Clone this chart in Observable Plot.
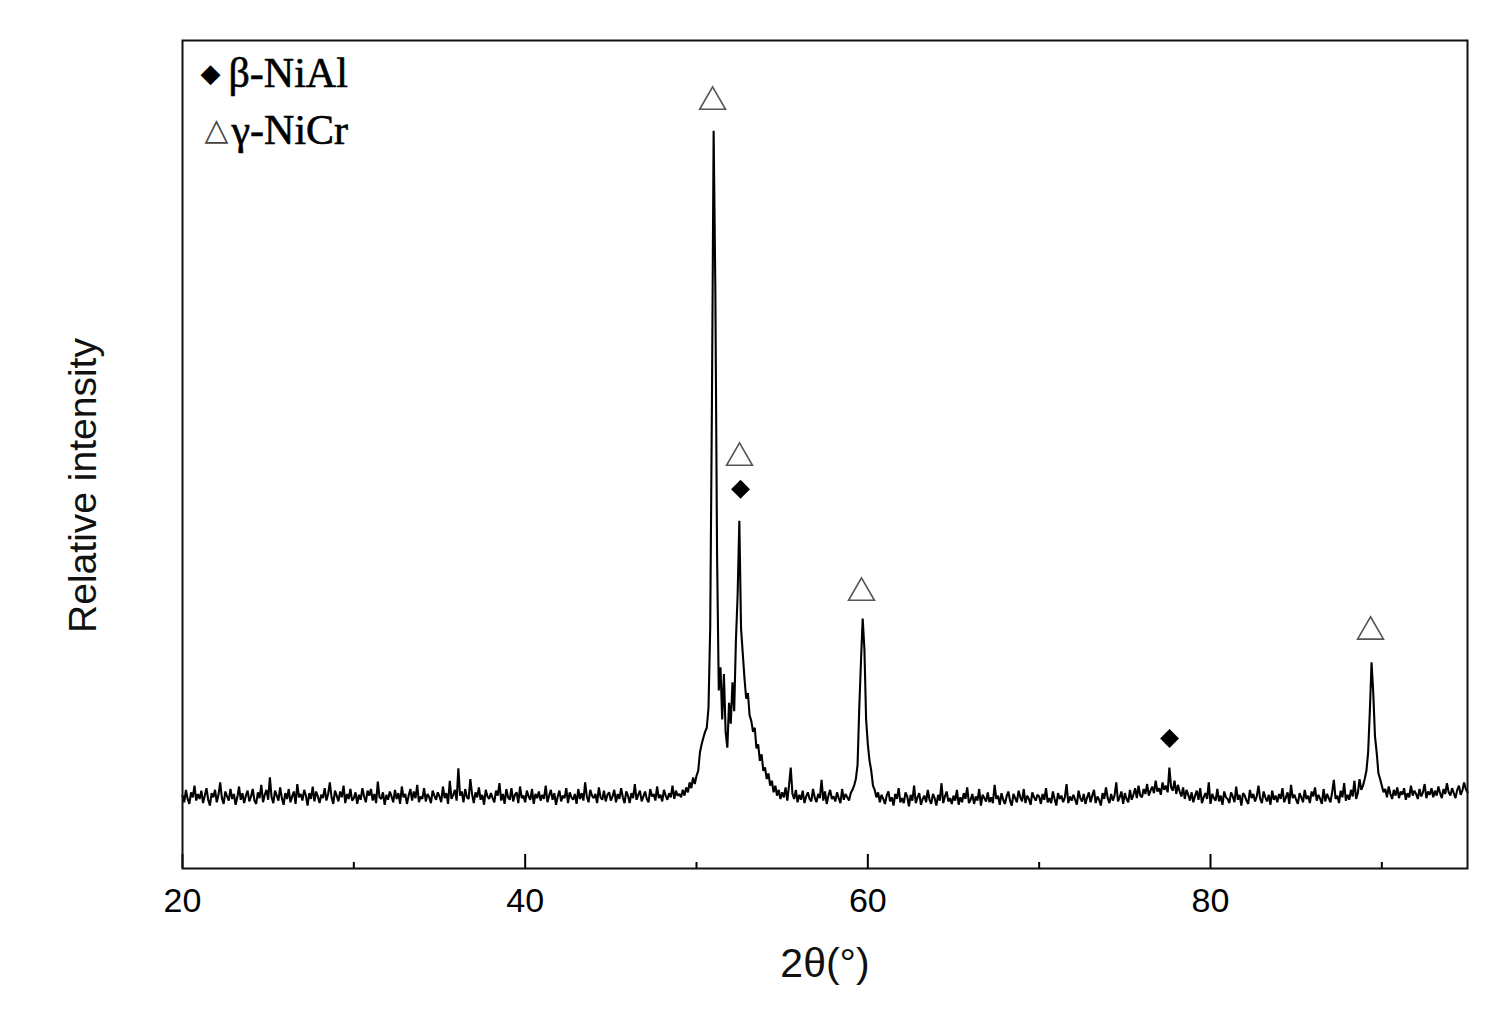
<!DOCTYPE html>
<html><head><meta charset="utf-8">
<script src="https://cdn.jsdelivr.net/npm/d3@7"></script>
<script src="https://cdn.jsdelivr.net/npm/@observablehq/plot@0.6"></script>
<style>body{margin:0;background:#fff}</style>
</head><body><div id="chart"></div>
<script>
// Sampling grid of the diffractogram (2θ, degrees)
const angleStart = 20;
const angleStep = 0.1;
// Relative intensity, one value every 0.1° from 20° to 95°
const intensity = [
 88,80,95,84,78,92,86,100,82,90,
 84,94,79,88,97,83,76,91,86,95,
 80,89,104,85,78,93,87,82,96,84,
 90,77,86,99,83,91,79,88,94,81,
 87,96,82,78,92,85,101,80,89,95,
 83,110,86,79,94,88,82,98,85,77,
 91,84,96,80,87,93,78,102,86,90,
 82,95,88,76,91,84,99,81,93,87,
 79,89,85,97,82,90,104,86,78,94,
 88,81,93,86,100,79,90,84,96,82,
 85,92,78,89,83,97,87,80,94,88,
 96,82,90,79,105,86,84,92,77,89,
 83,93,87,80,95,84,91,78,99,86,
 90,78,88,96,82,93,85,101,80,87,
 84,97,81,90,86,79,94,88,83,92,
 87,80,99,85,91,78,106,84,89,95,
 82,121,88,93,80,96,86,84,108,90,
 79,92,86,98,83,89,77,95,87,84,
 91,85,80,94,88,103,82,90,78,96,
 86,83,97,81,89,92,79,99,85,88,
 80,94,87,83,96,78,90,85,93,82,
 89,84,100,80,88,95,83,91,77,87,
 94,81,88,85,97,79,92,86,83,90,
 78,96,84,91,82,104,87,80,95,88,
 85,90,79,98,86,83,94,81,89,92,
 82,87,95,80,90,84,97,86,79,93,
 88,79,91,85,102,83,89,94,81,87,
 93,84,80,96,87,90,82,99,85,89,
 81,95,88,83,91,86,100,84,94,88,
 90,86,95,88,98,92,104,97,110,102,
 112,118,140,150,158,165,170,194,291,560,
 891,698,380,215,243,180,235,165,146,200,
 175,225,190,275,330,420,290,260,230,205,
 212,185,178,165,170,145,150,130,138,118,
 122,108,115,100,106,92,100,88,95,84,
 92,86,98,82,100,122,90,84,95,80,
 89,83,94,79,87,92,84,81,96,86,
 80,90,85,107,82,93,78,88,95,84,
 87,81,92,85,79,96,83,90,86,82,
 91,95,100,108,125,194,250,302,265,180,
 150,130,118,100,95,86,92,80,89,84,
 78,88,93,81,86,76,90,84,97,80,
 85,79,92,87,75,89,82,100,79,86,
 91,77,84,88,80,95,83,78,90,85,
 76,89,82,103,79,87,93,81,85,78,
 88,82,95,77,86,80,91,84,98,79,
 83,90,78,87,82,96,76,89,85,81,
 92,80,86,79,101,84,88,77,91,83,
 78,87,93,82,76,90,85,80,94,86,
 81,96,79,88,84,77,92,86,82,89,
 87,78,90,83,97,80,85,79,93,84,
 76,91,84,88,80,86,102,79,87,82,
 89,83,77,94,85,81,90,78,86,92,
 80,88,95,79,87,83,76,91,84,98,
 85,79,90,82,88,104,81,86,93,78,
 91,84,80,95,83,89,97,85,100,88,
 86,96,90,102,88,94,99,91,106,93,
 97,89,104,95,100,92,122,98,94,106,
 90,101,93,87,98,84,95,89,82,92,
 80,88,94,83,97,79,86,91,84,104,
 78,90,85,82,96,81,88,77,93,86,
 84,79,92,87,80,99,83,89,76,91,
 88,82,78,95,85,90,81,87,100,84,
 79,93,86,81,89,77,94,83,88,80,
 90,84,97,80,86,92,78,101,85,89,
 83,78,91,86,80,95,84,88,79,93,
 87,98,82,89,84,78,96,81,90,85,
 80,92,107,84,88,79,94,86,103,82,
 89,83,95,87,106,84,91,108,95,100,
 108,118,140,190,249,212,160,140,115,108,
 100,92,96,86,99,90,84,95,88,98,
 85,93,89,97,83,91,86,100,88,94,
 90,84,96,87,92,102,85,93,89,97,
 86,94,88,99,91,85,96,90,103,92,
 88,97,91,85,95,100,89,94,104,96,
 92
];
// Axis ticks
const xTicksMajor = [20, 40, 60, 80];
const xTicksMinor = [30, 50, 70, 90];
// Phase markers (γ-NiCr: open triangles, β-NiAl: filled diamonds)
const nicrAngles = [50.94, 52.51, 59.63, 89.34];
const nicrHeights = [926, 496, 333, 286];
const nialAngles = [52.57, 77.61];
const nialHeights = [458, 157];
// Texts
const legendSymbols = ["◆", "△"];
const legendLabels = ["β-NiAl", "γ-NiCr"];
const xLabel = "2θ(°)";
const yLabel = "Relative intensity";

const spectrum = intensity.map((v, i) => ({angle: angleStart + i * angleStep, intensity: v}));
const nicr = nicrAngles.map((a, i) => ({angle: a, h: nicrHeights[i]}));
const nial = nialAngles.map((a, i) => ({angle: a, h: nialHeights[i]}));

const innerH = 1014 - 40 - 146;
const serif = "'Liberation Serif', 'Times New Roman', serif";

const chart = Plot.plot({
  width: 1510,
  height: 1014,
  marginTop: 40,
  marginRight: 43,
  marginBottom: 146,
  marginLeft: 182,
  x: {domain: [20, 95]},
  y: {domain: [0, 1000], axis: null},
  style: {fontFamily: "'Liberation Sans', Arial, sans-serif", background: "#fff", color: "#000"},
  marks: [
    Plot.line(spectrum, {x: "angle", y: "intensity", stroke: "#000", strokeWidth: 2.1, strokeLinejoin: "miter"}),
    Plot.ruleX(xTicksMajor, {x: d => d, insetTop: innerH - 14, stroke: "#000", strokeWidth: 2}),
    Plot.ruleX(xTicksMinor, {x: d => d, insetTop: innerH - 6, stroke: "#000", strokeWidth: 2}),
    Plot.axisX({ticks: xTicksMajor, tickSize: 0, tickPadding: 19, fontSize: 34, label: null, tickFormat: d => String(d)}),
    Plot.frame({stroke: "#111", strokeWidth: 2}),
    Plot.dot(nicr, {x: "angle", y: "h", symbol: "triangle", r: 9.6, stroke: "#555", fill: "none", strokeWidth: 1.6}),
    Plot.dot(nial, {x: "angle", y: "h", symbol: "diamond2", r: 8.5, fill: "#000", stroke: "none"}),
    Plot.text([xLabel], {text: d => d, frameAnchor: "bottom", dy: 108, fontSize: 41, fill: "#111"}),
    Plot.text([yLabel], {text: d => d, frameAnchor: "left", textAnchor: "middle", rotate: -90, dx: -99, dy: 31, fontSize: 39, fill: "#111"}),
    Plot.text([legendSymbols[0]], {text: d => d, frameAnchor: "top-left", dx: 28, dy: 33, fontSize: 26, textAnchor: "middle", lineAnchor: "middle", fontFamily: "DejaVu Sans", fill: "#000"}),
    Plot.text([legendSymbols[1]], {text: d => d, frameAnchor: "top-left", dx: 34, dy: 90, fontSize: 31, textAnchor: "middle", lineAnchor: "middle", fontFamily: "DejaVu Sans", fill: "#444"}),
    Plot.text([legendLabels[0]], {text: d => d, frameAnchor: "top-left", dx: 46, dy: 33, fontSize: 42, textAnchor: "start", lineAnchor: "middle", fontFamily: serif, fill: "#000", stroke: "#000", strokeWidth: 0.6}),
    Plot.text([legendLabels[1]], {text: d => d, frameAnchor: "top-left", dx: 49, dy: 90, fontSize: 42, textAnchor: "start", lineAnchor: "middle", fontFamily: serif, fill: "#000", stroke: "#000", strokeWidth: 0.6})
  ]
});
document.getElementById("chart").appendChild(chart);
</script>
</body></html>
